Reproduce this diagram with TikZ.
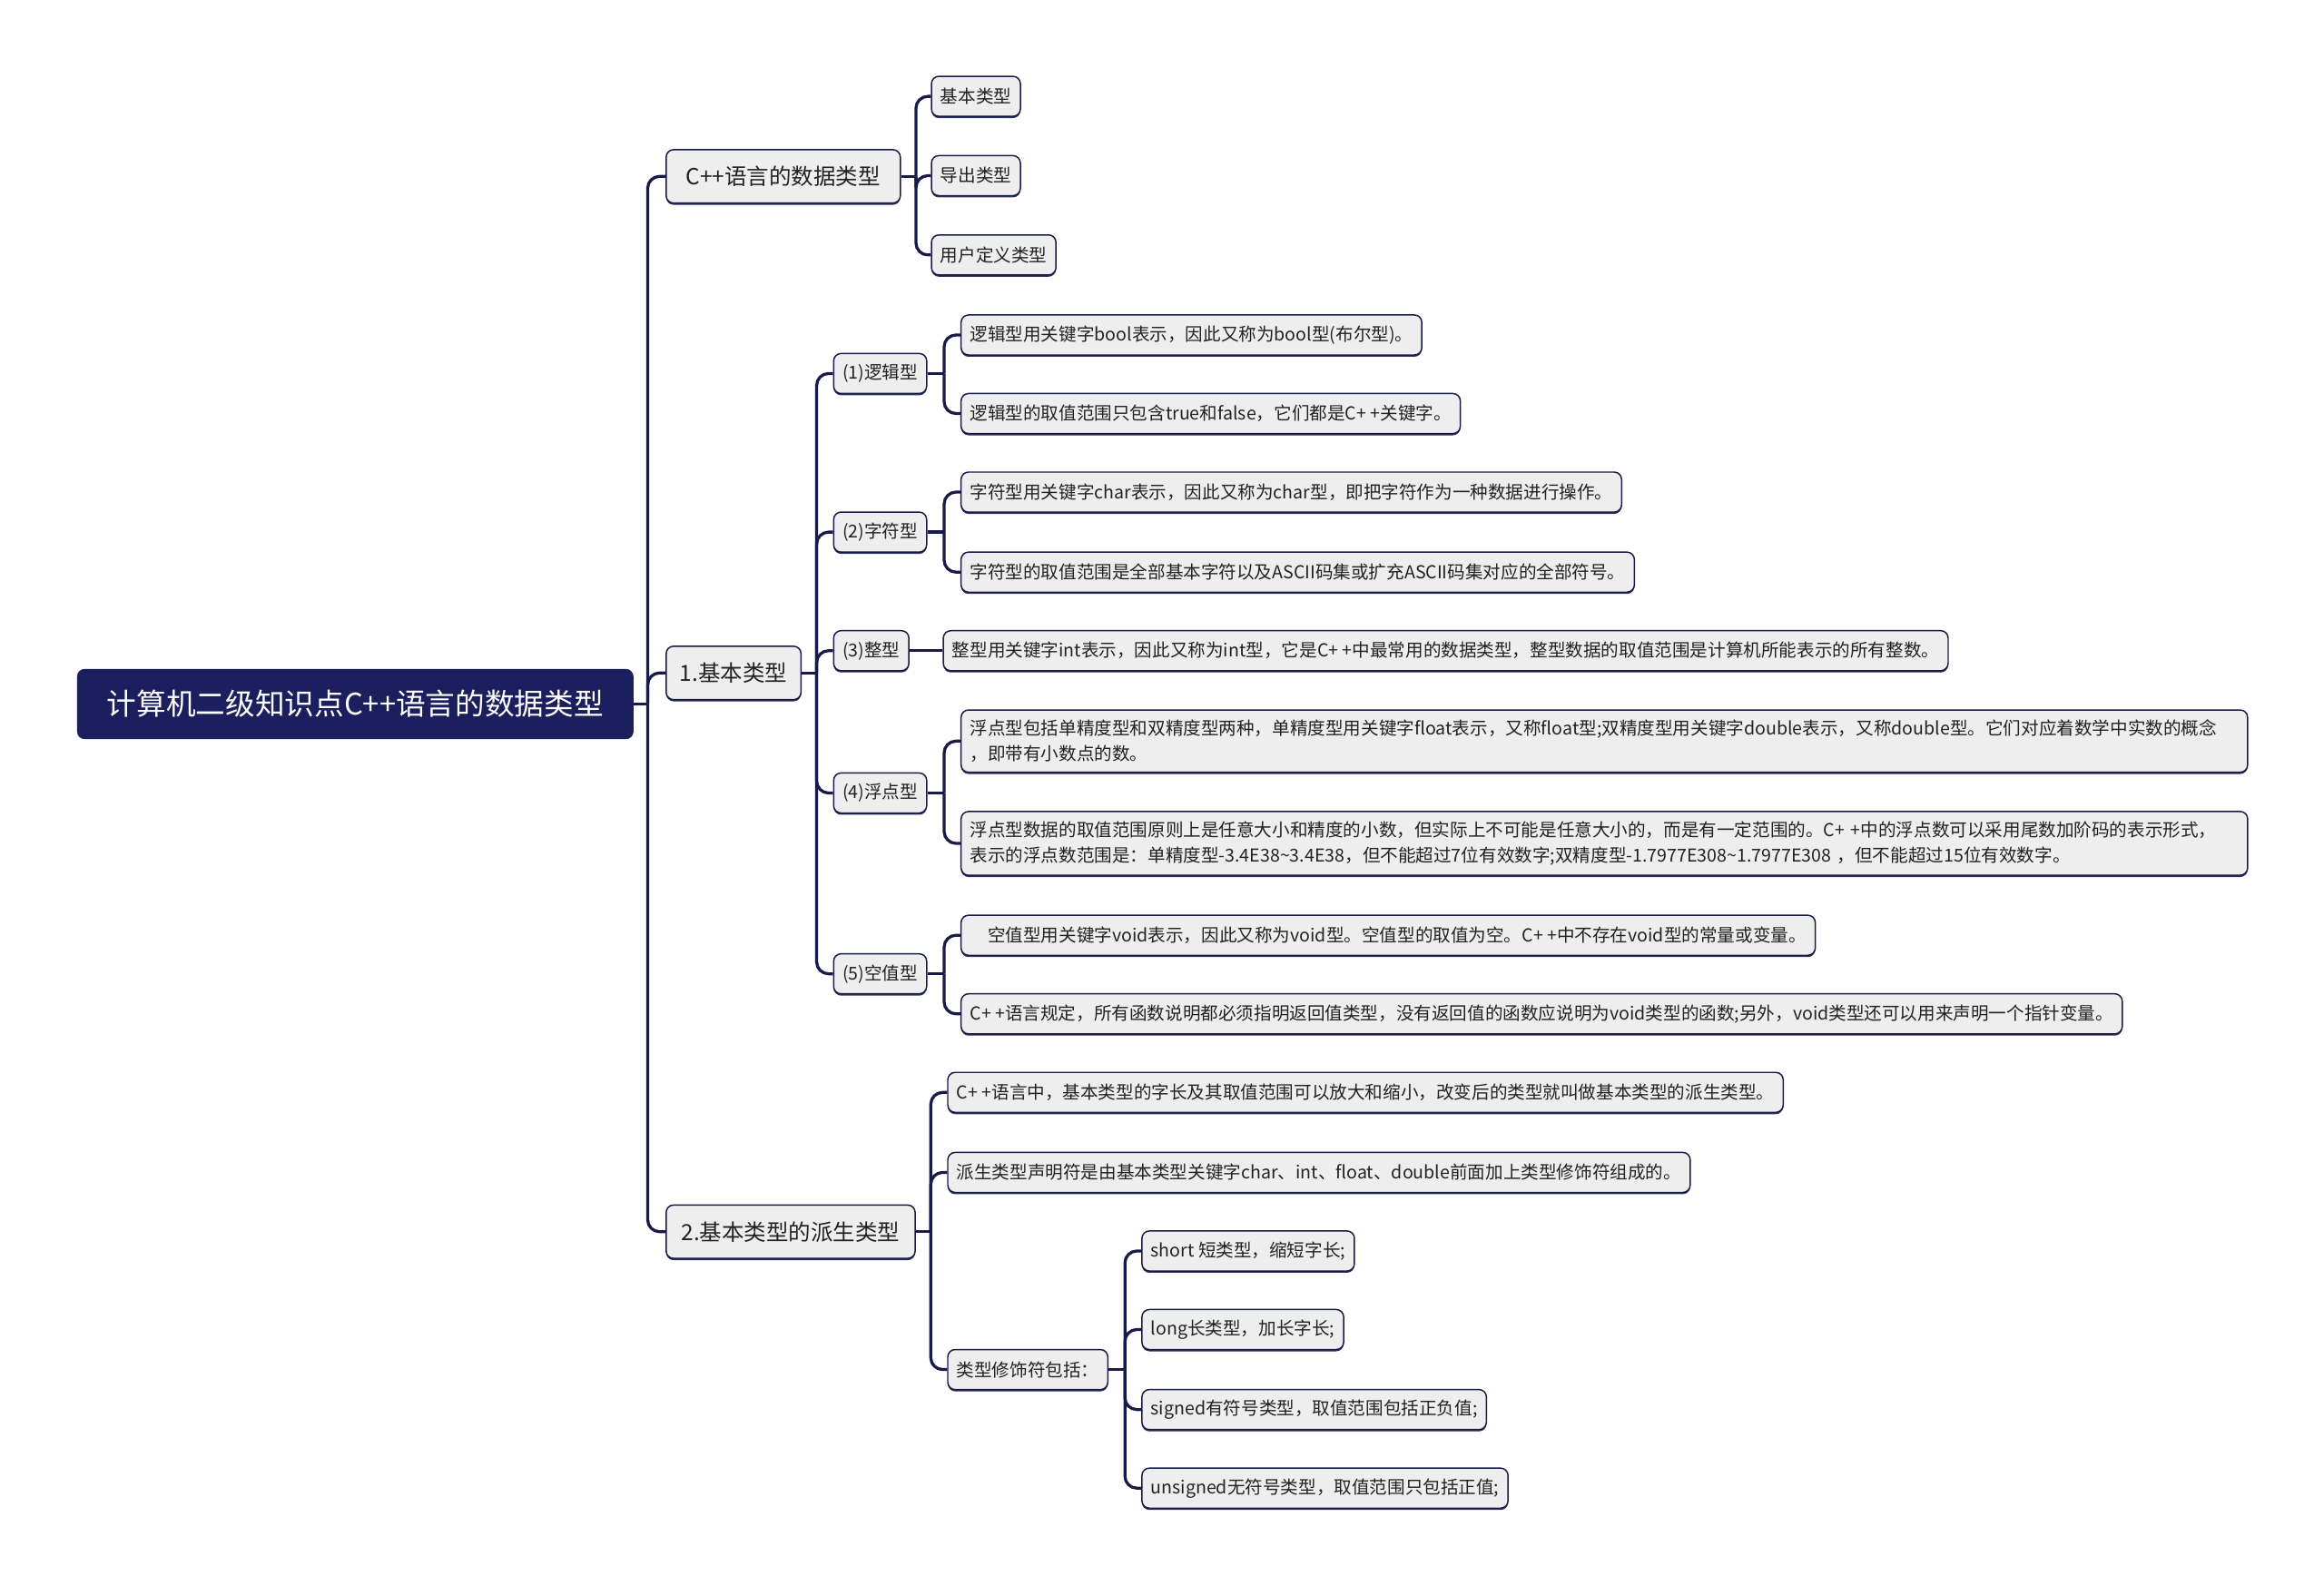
\documentclass[tikz,border=0pt]{standalone}
\usepackage{fontspec}
\usepackage{xcolor}
\usetikzlibrary{positioning}
\usetikzlibrary{shadows}
\setmainfont{Noto Sans CJK SC}
\XeTeXlinebreaklocale "zh"
\definecolor{mnavy}{RGB}{27,31,94}
\definecolor{mline}{RGB}{24,27,72}
\definecolor{mfill}{RGB}{238,238,238}
\definecolor{mtext}{RGB}{34,34,34}

\begin{document}
\begin{tikzpicture}[x=1pt, y=-1pt,
    box/.style={draw=mline, fill=mfill, line width=0.9pt, rounded corners=5pt, anchor=west,
        inner xsep=6pt, inner ysep=0pt, text=mtext,
        drop shadow={shadow xshift=0pt, shadow yshift=-1.2pt, fill=mline, opacity=0.9}},
    leaf/.style={box, minimum height=27pt, font=\fontsize{12}{17}\selectfont},
    longleaf/.style={leaf, text width=856pt, align=left},
    topic/.style={box, minimum height=36pt, inner xsep=8pt, font=\fontsize{15}{18}\selectfont},
    rootbox/.style={fill=mnavy, draw=mnavy, rounded corners=5pt, anchor=west, text=white,
        minimum height=47pt, minimum width=375pt, font=\fontsize{20}{24}\selectfont},
    link/.style={draw=mline, line width=2pt, rounded corners=8pt},
]
\useasboundingbox (0,0) rectangle (1568,1070);

\node[rootbox] (root) at (52,475) {计算机二级知识点C++语言的数据类型};

\node[topic, minimum width=158pt] (types) at (449,119) {C++语言的数据类型};
\node[topic, minimum width=91pt] (basic) at (449,454) {1.基本类型};
\node[topic, minimum width=168pt] (derived) at (449,831) {2.基本类型的派生类型};

\node[leaf] (t1) at (628,65) {基本类型};
\node[leaf] (t2) at (628,118.5) {导出类型};
\node[leaf] (t3) at (628,172) {用户定义类型};

\node[leaf] (bool) at (562,252) {(1)逻辑型};
\node[leaf] (char) at (562,359) {(2)字符型};
\node[leaf] (int) at (562,439) {(3)整型};
\node[leaf] (float) at (562,535) {(4)浮点型};
\node[leaf] (void) at (562,657) {(5)空值型};

\node[leaf] (bool1) at (648,226) {逻辑型用关键字bool表示，因此又称为bool型(布尔型)。};
\node[leaf] (bool2) at (648,279) {逻辑型的取值范围只包含true和false，它们都是C+ +关键字。};
\node[leaf] (char1) at (648,332) {字符型用关键字char表示，因此又称为char型，即把字符作为一种数据进行操作。};
\node[leaf] (char2) at (648,386) {字符型的取值范围是全部基本字符以及ASCII码集或扩充ASCII码集对应的全部符号。};
\node[leaf] (int1) at (636,439) {整型用关键字int表示，因此又称为int型，它是C+ +中最常用的数据类型，整型数据的取值范围是计算机所能表示的所有整数。};
\node[longleaf, minimum height=42pt] (float1) at (648,500) {浮点型包括单精度型和双精度型两种，单精度型用关键字float表示，又称float型;双精度型用关键字double表示，又称double型。它们对应着数学中实数的概念\\，即带有小数点的数。};
\node[longleaf, minimum height=43pt] (float2) at (648,569) {浮点型数据的取值范围原则上是任意大小和精度的小数，但实际上不可能是任意大小的，而是有一定范围的。C+ +中的浮点数可以采用尾数加阶码的表示形式，\\表示的浮点数范围是：单精度型-3.4E38\textasciitilde 3.4E38，但不能超过7位有效数字;双精度型-1.7977E308\textasciitilde 1.7977E308 ，但不能超过15位有效数字。};
\node[leaf] (void1) at (648,631) {\hspace{12pt}空值型用关键字void表示，因此又称为void型。空值型的取值为空。C+ +中不存在void型的常量或变量。};
\node[leaf] (void2) at (648,684) {C+ +语言规定，所有函数说明都必须指明返回值类型，没有返回值的函数应说明为void类型的函数;另外，void类型还可以用来声明一个指针变量。};

\node[leaf] (der1) at (639,737) {C+ +语言中，基本类型的字长及其取值范围可以放大和缩小，改变后的类型就叫做基本类型的派生类型。};
\node[leaf] (der2) at (639,791) {派生类型声明符是由基本类型关键字char、int、float、double前面加上类型修饰符组成的。};
\node[leaf] (mod) at (639,924) {类型修饰符包括：};

\node[leaf] (m1) at (770,844) {short 短类型，缩短字长;};
\node[leaf] (m2) at (770,897) {long长类型，加长字长;};
\node[leaf] (m3) at (770,951) {signed有符号类型，取值范围包括正负值;};
\node[leaf] (m4) at (770,1004) {unsigned无符号类型，取值范围只包括正值;};

% branch points
\coordinate (rootj) at (437,475);
\coordinate (typesj) at (618,119);
\coordinate (basicj) at (551,454);
\coordinate (boolj) at (637,252);
\coordinate (charj) at (637,359);
\coordinate (floatj) at (637,535);
\coordinate (voidj) at (637,657);
\coordinate (derivedj) at (628,831);
\coordinate (modj) at (759,924);

\draw[link] (root.east) -- (rootj);
\draw[link] (rootj) |- (types.west);
\draw[link] (rootj) |- (basic.west);
\draw[link] (rootj) |- (derived.west);

\draw[link] (types.east) -- (typesj);
\draw[link] (typesj) |- (t1.west);
\draw[link] (typesj) |- (t2.west);
\draw[link] (typesj) |- (t3.west);

\draw[link] (basic.east) -- (basicj);
\draw[link] (basicj) |- (bool.west);
\draw[link] (basicj) |- (char.west);
\draw[link] (basicj) |- (int.west);
\draw[link] (basicj) |- (float.west);
\draw[link] (basicj) |- (void.west);

\draw[link] (bool.east) -- (boolj);
\draw[link] (boolj) |- (bool1.west);
\draw[link] (boolj) |- (bool2.west);
\draw[link] (char.east) -- (charj);
\draw[link] (charj) |- (char1.west);
\draw[link] (charj) |- (char2.west);
\draw[link] (int.east) -- (int1.west);
\draw[link] (float.east) -- (floatj);
\draw[link] (floatj) |- (float1.west);
\draw[link] (floatj) |- (float2.west);
\draw[link] (void.east) -- (voidj);
\draw[link] (voidj) |- (void1.west);
\draw[link] (voidj) |- (void2.west);

\draw[link] (derived.east) -- (derivedj);
\draw[link] (derivedj) |- (der1.west);
\draw[link] (derivedj) |- (der2.west);
\draw[link] (derivedj) |- (mod.west);

\draw[link] (mod.east) -- (modj);
\draw[link] (modj) |- (m1.west);
\draw[link] (modj) |- (m2.west);
\draw[link] (modj) |- (m3.west);
\draw[link] (modj) |- (m4.west);

\end{tikzpicture}
\end{document}
